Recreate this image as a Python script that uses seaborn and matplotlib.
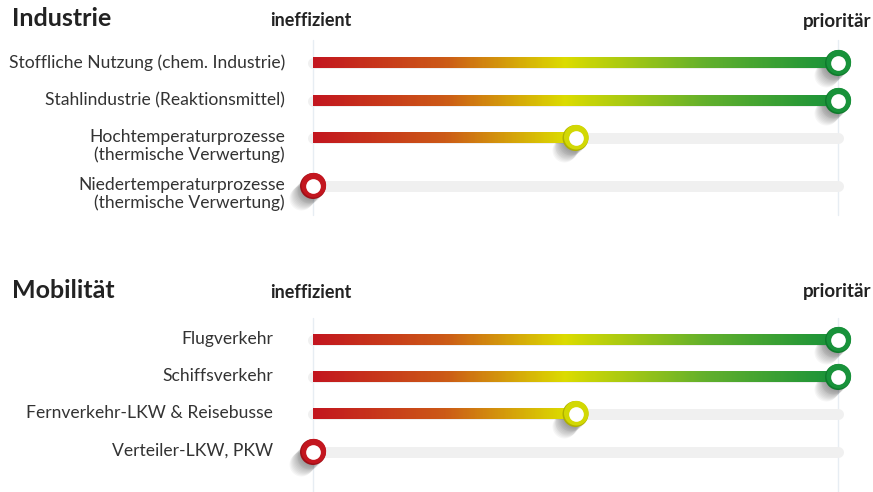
import numpy as np
import matplotlib
matplotlib.use("Agg")
import matplotlib.pyplot as plt
import seaborn as sns
import pandas as pd
from matplotlib.colors import LinearSegmentedColormap
from matplotlib.transforms import ScaledTranslation

# ---------------- data ----------------
industry_title = "Industrie"
industry_labels = ["Stoffliche Nutzung (chem. Industrie)",
                   "Stahlindustrie (Reaktionsmittel)",
                   "Hochtemperaturprozesse\n(thermische Verwertung)",
                   "Niedertemperaturprozesse\n(thermische Verwertung)"]
industry_values = [1.0, 1.0, 0.5, 0.0]

mobility_title = "Mobilität"
mobility_labels = ["Flugverkehr", "Schiffsverkehr",
                   "Fernverkehr-LKW & Reisebusse", "Verteiler-LKW, PKW"]
mobility_values = [1.0, 1.0, 0.5, 0.0]

scale_low = "ineffizient"
scale_high = "prioritär"

# ---------------- layout (pixels) ----------------
W, H = 873, 492
X0, X1 = 313, 838
panels = [
    dict(title=industry_title, labels=industry_labels, values=industry_values,
         rows=[63, 101, 138, 186], title_y=19, head_y=21, label_x=285, vline=(40, 215)),
    dict(title=mobility_title, labels=mobility_labels, values=mobility_values,
         rows=[340, 377, 414, 452], title_y=291, head_y=292, label_x=273, vline=(318, 492)),
]

sns.set_theme(style="white")
plt.rcParams['font.family'] = ['Lato', 'DejaVu Sans']

fig = plt.figure(figsize=(W / 100, H / 100), dpi=100)
fig.patch.set_facecolor("white")
ax = fig.add_axes([X0 / W, 0, (X1 - X0) / W, 1])
ax.set_axis_off()

cmap = LinearSegmentedColormap.from_list(
    "eff", [(0.0, "#c3161f"), (0.25, "#cc5a17"), (0.48, "#dcdc00"),
            (0.75, "#62b02c"), (1.0, "#18923a")])
dark = LinearSegmentedColormap.from_list(
    "effd", [(0.0, "#9e1018"), (0.5, "#b0b000"), (1.0, "#0f7a2c")])

lw_track = 11 * 0.72


def off(dx, dy):
    return ax.transData + ScaledTranslation(dx / 100, -dy / 100, fig.dpi_scale_trans)


for p in panels:
    # faint vertical guides
    for xv in (0.0, 1.0):
        ax.plot([xv, xv], list(p["vline"]), color="#e7edf3", lw=1.0, zorder=0,
                clip_on=False)
    # headings
    fig.text(12 / W, 1 - p["title_y"] / H, p["title"], fontsize=18, fontweight="bold",
             color="#222222", ha="left", va="center")
    fig.text(311 / W, 1 - p["head_y"] / H, scale_low, fontsize=13, fontweight="bold",
             color="#222222", ha="center", va="center")
    fig.text(837 / W, 1 - p["head_y"] / H, scale_high, fontsize=13.5, fontweight="bold",
             color="#222222", ha="center", va="center")

    df = pd.DataFrame({"value": p["values"], "y": p["rows"]})
    for lab, val, y in zip(p["labels"], p["values"], p["rows"]):
        # label
        fig.text(p["label_x"] / W, 1 - (y - 9) / H, lab, fontsize=12.6, color="#333333",
                 ha="right", va="top", linespacing=1.1)
        # grey track
        ax.plot([0, 1], [y, y], color="#f0f0f0", lw=lw_track, solid_capstyle="round",
                zorder=1, clip_on=False)
        # knob shadow
        for k in range(1, 14):
            ax.scatter([val], [y], s=300, color="#000000", alpha=0.035, linewidths=0,
                       transform=off(-k * 0.9, k * 0.9), zorder=1.5, clip_on=False)
        # gradient bar
        if val > 0:
            grad = np.linspace(0, val, 300).reshape(1, -1)
            ax.imshow(grad, cmap=cmap, vmin=0, vmax=1, aspect="auto",
                      extent=[0, val, y + 5.5, y - 5.5], zorder=2,
                      interpolation="bilinear", clip_on=False)

    # knobs (seaborn scatter)
    sns.scatterplot(data=df, x="value", y="y", ax=ax, s=350, linewidth=0,
                    color=[dark(v) for v in df["value"]], zorder=3, legend=False,
                    clip_on=False)
    sns.scatterplot(data=df, x="value", y="y", ax=ax, s=315, linewidth=0,
                    color=[cmap(v) for v in df["value"]], zorder=3.1, legend=False,
                    clip_on=False, transform=off(0.8, -0.8))
    sns.scatterplot(data=df, x="value", y="y", ax=ax, s=112, linewidth=0,
                    color="white", zorder=3.2, legend=False, clip_on=False)

ax.set_xlim(0, 1)
ax.set_ylim(H, 0)
ax.set_aspect("auto")
ax.set_xlabel("")
ax.set_ylabel("")
fig.savefig("out.png", dpi=100, facecolor="white")
